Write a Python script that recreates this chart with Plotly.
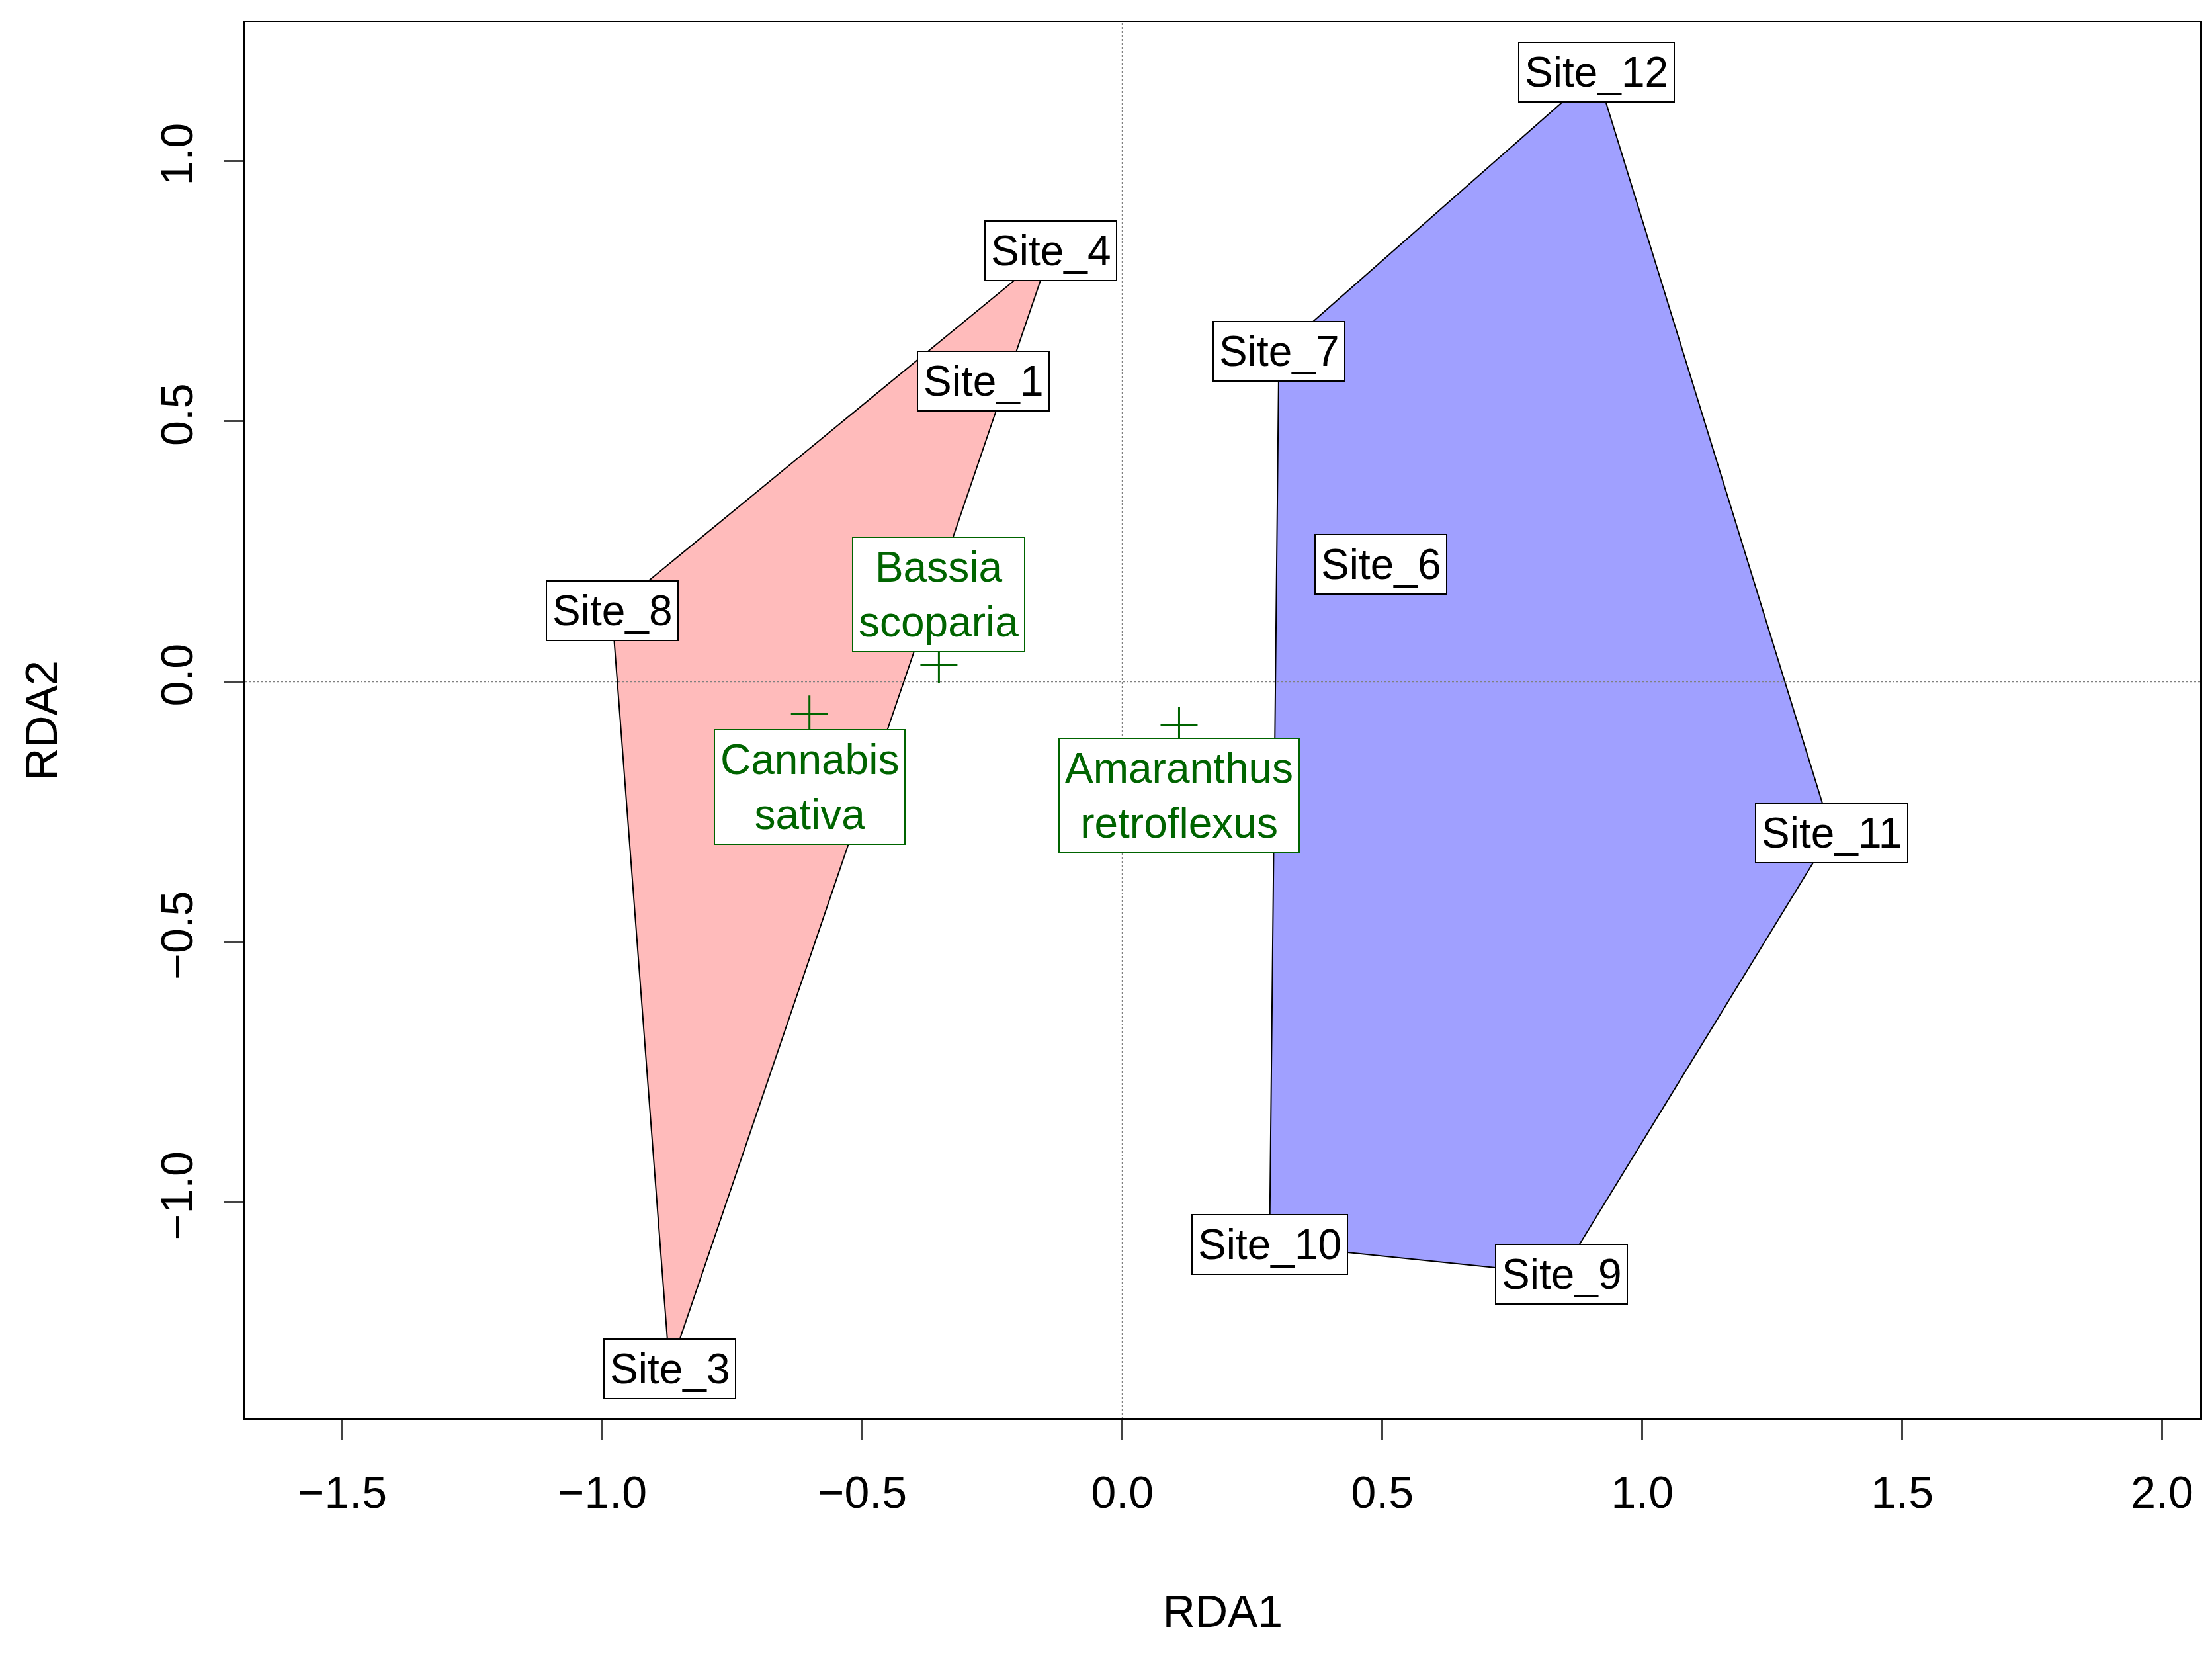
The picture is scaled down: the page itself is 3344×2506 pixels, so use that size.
import plotly.graph_objects as go

# site scores
sites = ["Site_1", "Site_3", "Site_4", "Site_6", "Site_7", "Site_8",
         "Site_9", "Site_10", "Site_11", "Site_12"]
site_x = [-0.268, -0.871, -0.138, 0.497, 0.301, -0.982, 0.844, 0.283, 1.364, 0.912]
site_y = [0.577, -1.320, 0.828, 0.225, 0.634, 0.136, -1.138, -1.081, -0.290, 1.171]

# hull groups (ordered)
hull_red = ["Site_8", "Site_4", "Site_3"]
hull_blue = ["Site_7", "Site_12", "Site_11", "Site_9", "Site_10"]

# species scores
species = ["Bassia<br>scoparia", "Cannabis<br>sativa", "Amaranthus<br>retroflexus"]
sp_x = [-0.353, -0.602, 0.109]
sp_y = [0.033, -0.062, -0.084]
sp_lab_dy = [0.135, -0.14, -0.135]

pos = {s: (x, y) for s, x, y in zip(sites, site_x, site_y)}

fig = go.Figure()
for hull, col in [(hull_red, "rgb(255,187,187)"), (hull_blue, "rgb(160,160,255)")]:
    xs = [pos[s][0] for s in hull] + [pos[hull[0]][0]]
    ys = [pos[s][1] for s in hull] + [pos[hull[0]][1]]
    fig.add_trace(go.Scatter(x=xs, y=ys, mode="lines", fill="toself",
                             fillcolor=col, line=dict(color="black", width=2),
                             hoverinfo="skip"))

fig.add_trace(go.Scatter(x=sp_x, y=sp_y, mode="markers",
                         marker=dict(symbol="cross-thin", size=40,
                                     line=dict(color="#006400", width=3))))

for s in sites:
    fig.add_annotation(x=pos[s][0], y=pos[s][1], text=s, showarrow=False,
                       font=dict(size=64, color="black"), bgcolor="white",
                       bordercolor="black", borderwidth=2, borderpad=8)
for t, x, y, dy in zip(species, sp_x, sp_y, sp_lab_dy):
    fig.add_annotation(x=x, y=y + dy, text=t, showarrow=False,
                       font=dict(size=64, color="#006400"), bgcolor="white",
                       bordercolor="#006400", borderwidth=2, borderpad=8)

fig.add_hline(y=0, line=dict(color="gray", width=2, dash="dot"))
fig.add_vline(x=0, line=dict(color="gray", width=2, dash="dot"))

axis = dict(showgrid=False, zeroline=False, showline=True, mirror=True,
            linecolor="black", linewidth=3, ticks="outside", ticklen=30,
            tickwidth=3, tickfont=dict(size=68, color="black"),
            tickformat=".1f", dtick=0.5, ticklabelstandoff=20)
fig.update_layout(
    width=3344, height=2506, showlegend=False,
    plot_bgcolor="white", paper_bgcolor="white",
    font=dict(family="Liberation Sans, Arial", color="black"),
    margin=dict(l=363, r=26, t=26, b=370),
    xaxis=dict(axis, range=[-1.687, 2.073], title=dict(text="RDA1", font=dict(size=68), standoff=120)),
    yaxis=dict(axis, range=[-1.415, 1.266], tickangle=-90,
               title=dict(text="RDA2", font=dict(size=68), standoff=120)),
)
fig.write_html("out.html")
